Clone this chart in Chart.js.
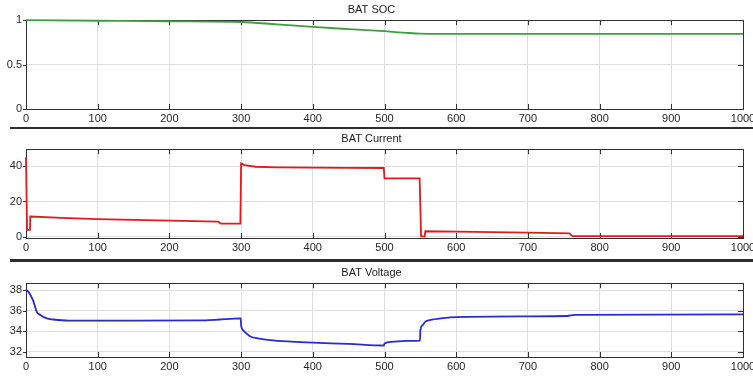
<!DOCTYPE html>
<html>
<head>
<meta charset="utf-8">
<script src="https://cdn.jsdelivr.net/npm/chart.js@4.4.0/dist/chart.umd.min.js"></script>
<style>
  body { margin: 0; background: #fff; width: 753px; height: 376px; overflow: hidden; position: relative; }
  .panel { position: absolute; left: 0; width: 753px; }
  .sep { position: absolute; left: 10px; right: 0; background: #2e2e2e; }
</style>
</head>
<body>
<div class="panel" style="top:0;height:128px"><canvas id="socChart"></canvas></div>
<div class="sep" style="top:127px;height:2px"></div>
<div class="panel" style="top:130px;height:128px"><canvas id="currentChart"></canvas></div>
<div class="sep" style="top:259px;height:3px"></div>
<div class="panel" style="top:263px;height:113px"><canvas id="voltageChart"></canvas></div>
<script>
// time axis
const xTicks = [0, 100, 200, 300, 400, 500, 600, 700, 800, 900, 1000];

// BAT SOC
const socTime = [0, 100, 200, 300, 350, 400, 450, 500, 530, 550, 570, 1000];
const socValue = [1.0, 0.994, 0.988, 0.98, 0.953, 0.925, 0.9, 0.876, 0.858, 0.848, 0.845, 0.845];
const socTicks = [0, 0.5, 1];

// BAT Current
const currentTime = [0, 1, 1.5, 5.5, 6, 50, 100, 150, 200, 268, 272, 299, 300, 305, 320, 350, 400, 450, 499, 500, 549, 551, 556, 557, 600, 650, 700, 758, 762, 1000];
const currentValue = [45, 45, 4, 4, 11.5, 10.7, 10.1, 9.6, 9.2, 8.6, 7.5, 7.5, 41.5, 40.5, 39.6, 39.3, 39.1, 39, 38.9, 33, 33, 0.3, 0.3, 3.2, 3.0, 2.7, 2.4, 2.0, 0.5, 0.5];
const currentTicks = [0, 20, 40];

// BAT Voltage
const voltageTime = [0, 5, 10, 15, 20, 29, 38, 60, 150, 250, 270, 290, 299.5, 300, 303, 308, 313, 325, 340, 370, 400, 450, 499.5, 500, 510, 530, 549.5, 550, 553, 557, 563, 582, 600, 700, 755, 765, 1000];
const voltageValue = [38.1, 37.7, 37.0, 35.9, 35.6, 35.26, 35.16, 35.05, 35.05, 35.08, 35.16, 35.25, 35.27, 34.6, 34.1, 33.75, 33.5, 33.3, 33.15, 33.0, 32.9, 32.78, 32.62, 32.82, 32.98, 33.08, 33.1, 34.1, 34.6, 34.95, 35.1, 35.3, 35.4, 35.47, 35.5, 35.6, 35.65];
const voltageTicks = [32, 34, 36, 38];

const font = { family: 'Liberation Sans, Arial, sans-serif', size: 11 };
const titleFont = { family: 'Liberation Sans, Arial, sans-serif', size: 11, weight: 'normal' };

// box round the plot with MATLAB style tick marks, drawn under the trace
const frame = {
    id: 'frame',
    beforeDatasetsDraw(chart) {
        const { ctx, chartArea: a, scales } = chart;
        ctx.save();
        ctx.strokeStyle = '#303030';
        ctx.lineWidth = 1;
        ctx.beginPath();
        scales.x.ticks.forEach(t => {
            const px = Math.round(scales.x.getPixelForValue(t.value)) + 0.5;
            ctx.moveTo(px, a.top); ctx.lineTo(px, a.top + 5);
            ctx.moveTo(px, a.bottom); ctx.lineTo(px, a.bottom - 5);
        });
        scales.y.ticks.forEach(t => {
            const py = Math.round(scales.y.getPixelForValue(t.value)) + 0.5;
            ctx.moveTo(a.left - 3, py); ctx.lineTo(a.left, py);
            ctx.moveTo(a.right, py); ctx.lineTo(a.right - 5, py);
        });
        ctx.stroke();
        ctx.strokeRect(Math.round(a.left) + 0.5, Math.round(a.top) + 0.5, Math.round(a.right - a.left), Math.round(a.bottom - a.top));
        ctx.restore();
    }
};

function makePanel(id, title, times, values, color, yTicks, yMin, yMax, titleTop, xHeight, smooth) {
    new Chart(document.getElementById(id), {
        type: 'line',
        data: {
            datasets: [{
                data: times.map((t, i) => ({ x: t, y: values[i] })),
                borderColor: color,
                borderWidth: 1.8,
                pointRadius: 0,
                fill: false,
                clip: 2,
                cubicInterpolationMode: smooth ? 'monotone' : 'default',
                tension: 0
            }]
        },
        options: {
            responsive: true,
            maintainAspectRatio: false,
            animation: false,
            layout: { padding: { left: 0, right: 10, top: 0, bottom: 0 } },
            plugins: {
                legend: { display: false },
                tooltip: { enabled: false },
                title: {
                    display: true,
                    text: title,
                    color: '#1a1a1a',
                    font: titleFont,
                    padding: { top: titleTop, bottom: 4 }
                }
            },
            scales: {
                x: {
                    type: 'linear',
                    min: 0,
                    max: 1000,
                    afterBuildTicks: s => { s.ticks = xTicks.map(v => ({ value: v })); },
                    afterFit: s => { s.height = xHeight; s.paddingLeft = 0; s.paddingRight = 0; },
                    grid: { color: '#dedede', drawTicks: false },
                    border: { display: false },
                    ticks: { color: '#262626', font: font, padding: 3, maxRotation: 0, autoSkip: false, callback: v => String(v) }
                },
                y: {
                    min: yMin,
                    max: yMax,
                    afterBuildTicks: s => { s.ticks = yTicks.map(v => ({ value: v })); },
                    afterFit: s => { s.width = 26; s.paddingTop = 0; s.paddingBottom = 0; },
                    grid: { color: '#dedede', drawTicks: false },
                    border: { display: false },
                    ticks: { color: '#262626', font: font, padding: 4, callback: v => String(v) }
                }
            }
        },
        plugins: [frame]
    });
}

makePanel('socChart', 'BAT SOC', socTime, socValue, '#3f9f3f', socTicks, 0, 1, 3, 19, true);
makePanel('currentChart', 'BAT Current', currentTime, currentValue, '#e01b1b', currentTicks, -0.6, 49.5, 2, 20, false);
makePanel('voltageChart', 'BAT Voltage', voltageTime, voltageValue, '#2a2ad0', voltageTicks, 31.5, 38.7, 3, 19, true);
</script>
</body>
</html>
